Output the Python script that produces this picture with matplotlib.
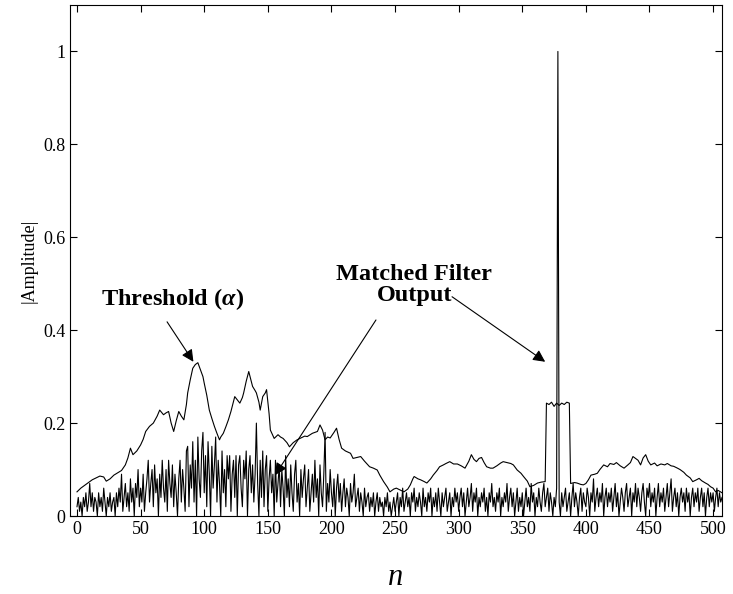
import matplotlib
matplotlib.use('Agg')
import matplotlib.pyplot as plt
import numpy as np

plt.rcParams['font.family'] = ['Liberation Serif', 'DejaVu Serif']
plt.rcParams['mathtext.fontset'] = 'custom'
plt.rcParams['mathtext.rm'] = 'Liberation Serif:bold'
plt.rcParams['mathtext.it'] = 'Liberation Serif:italic:bold'

# threshold curve (sample index, value)
thr_n = [0, 3, 6, 9, 12, 15, 18, 21, 23, 26, 29, 32, 35, 38, 40, 42, 44, 47, 50, 52,
         54, 57, 60, 63, 65, 68, 70, 72, 74, 76, 78, 80, 82, 84, 86, 87, 89, 91, 93, 95,
         97, 99, 100, 102, 104, 106, 108, 110, 112, 113, 115, 117, 119, 121, 124, 126, 128, 130, 131, 133,
         135, 137, 138, 140, 141, 143, 144, 146, 148, 149, 151, 152, 155, 158, 160, 162, 165, 167, 170, 173,
         176, 179, 181, 185, 189, 191, 193, 195, 197, 199, 202, 204, 206, 208, 211, 215, 217, 220, 223, 226,
         230, 233, 236, 238, 241, 244, 246, 249, 251, 254, 257, 260, 262, 264, 265, 268, 270, 273, 275, 278,
         280, 283, 285, 288, 290, 293, 296, 299, 302, 305, 308, 310, 312, 314, 316, 318, 320, 322, 325, 327,
         330, 333, 335, 338, 341, 343, 346, 349, 351, 354, 356, 359, 362, 365, 368, 369, 371, 373, 375, 377,
         379, 381, 383, 385, 387, 388, 391, 393, 396, 398, 400, 402, 404, 407, 409, 411, 414, 417, 419, 422,
         424, 427, 430, 433, 435, 437, 439, 441, 443, 445, 447, 449, 451, 454, 456, 459, 462, 464, 467, 469,
         472, 474, 477, 479, 482, 484, 487, 489, 491, 494, 496, 498, 500, 502, 504, 507]
thr_val = [0.052, 0.060, 0.066, 0.072, 0.078, 0.082, 0.086, 0.084, 0.075, 0.080, 0.088, 0.093, 0.098, 0.110, 0.125, 0.146, 0.132, 0.140, 0.153, 0.165,
           0.182, 0.193, 0.200, 0.215, 0.228, 0.218, 0.222, 0.225, 0.200, 0.182, 0.205, 0.225, 0.215, 0.207, 0.240, 0.265, 0.293, 0.318, 0.326, 0.330,
           0.315, 0.300, 0.286, 0.260, 0.228, 0.210, 0.193, 0.178, 0.164, 0.170, 0.178, 0.192, 0.207, 0.225, 0.257, 0.250, 0.243, 0.255, 0.265, 0.290,
           0.311, 0.290, 0.279, 0.270, 0.265, 0.245, 0.228, 0.257, 0.265, 0.272, 0.220, 0.185, 0.167, 0.175, 0.170, 0.167, 0.158, 0.149, 0.158, 0.164,
           0.168, 0.172, 0.171, 0.178, 0.182, 0.196, 0.185, 0.164, 0.170, 0.168, 0.180, 0.189, 0.165, 0.146, 0.140, 0.135, 0.124, 0.126, 0.128, 0.118,
           0.106, 0.103, 0.099, 0.088, 0.074, 0.062, 0.052, 0.058, 0.060, 0.056, 0.052, 0.058, 0.067, 0.080, 0.085, 0.080, 0.078, 0.074, 0.071, 0.080,
           0.088, 0.098, 0.106, 0.110, 0.113, 0.117, 0.112, 0.112, 0.108, 0.103, 0.118, 0.132, 0.122, 0.117, 0.124, 0.126, 0.115, 0.106, 0.103, 0.103,
           0.108, 0.114, 0.117, 0.115, 0.113, 0.110, 0.099, 0.092, 0.085, 0.075, 0.063, 0.066, 0.071, 0.073, 0.074, 0.243, 0.240, 0.245, 0.236, 0.243,
           0.238, 0.243, 0.240, 0.245, 0.243, 0.070, 0.072, 0.071, 0.068, 0.067, 0.070, 0.078, 0.088, 0.090, 0.092, 0.100, 0.110, 0.106, 0.113, 0.111,
           0.115, 0.108, 0.103, 0.110, 0.115, 0.128, 0.124, 0.120, 0.110, 0.125, 0.132, 0.118, 0.110, 0.114, 0.108, 0.112, 0.110, 0.113, 0.108, 0.107,
           0.103, 0.100, 0.094, 0.088, 0.082, 0.074, 0.078, 0.081, 0.076, 0.071, 0.068, 0.063, 0.060, 0.052, 0.055, 0.050]

# matched filter output |y[n]|, n = 0 .. 507
mf_out = [
    0.02, 0.04, 0.01, 0.03, 0.00, 0.04, 0.02, 0.05, 0.01, 0.03,
    0.07, 0.02, 0.05, 0.01, 0.04, 0.03, 0.00, 0.05, 0.02, 0.04,
    0.01, 0.06, 0.03, 0.00, 0.04, 0.02, 0.05, 0.01, 0.03, 0.04,
    0.00, 0.05, 0.02, 0.06, 0.03, 0.09, 0.01, 0.04, 0.07, 0.02,
    0.05, 0.01, 0.08, 0.03, 0.06, 0.00, 0.07, 0.04, 0.10, 0.02,
    0.06, 0.03, 0.09, 0.01, 0.05, 0.08, 0.12, 0.03, 0.07, 0.10,
    0.02, 0.11, 0.05, 0.08, 0.00, 0.09, 0.04, 0.12, 0.06, 0.03,
    0.10, 0.01, 0.12, 0.07, 0.04, 0.11, 0.02, 0.09, 0.05, 0.00,
    0.08, 0.12, 0.03, 0.10, 0.06, 0.01, 0.14, 0.15, 0.02, 0.11,
    0.06, 0.16, 0.03, 0.12, 0.00, 0.17, 0.08, 0.04, 0.14, 0.18,
    0.05, 0.13, 0.02, 0.16, 0.09, 0.00, 0.15, 0.06, 0.11, 0.17,
    0.03, 0.12, 0.07, 0.00, 0.14, 0.05, 0.10, 0.02, 0.13, 0.08,
    0.13, 0.01, 0.09, 0.12, 0.04, 0.13, 0.00, 0.11, 0.13, 0.06,
    0.02, 0.12, 0.08, 0.14, 0.00, 0.10, 0.13, 0.05, 0.11, 0.03,
    0.09, 0.20, 0.07, 0.00, 0.12, 0.04, 0.14, 0.02, 0.10, 0.13,
    0.01, 0.08, 0.12, 0.05, 0.09, 0.00, 0.12, 0.03, 0.07, 0.11,
    0.02, 0.10, 0.06, 0.00, 0.13, 0.04, 0.08, 0.02, 0.11, 0.05,
    0.01, 0.09, 0.12, 0.03, 0.07, 0.00, 0.10, 0.04, 0.08, 0.11,
    0.02, 0.06, 0.10, 0.01, 0.05, 0.09, 0.03, 0.12, 0.04, 0.08,
    0.00, 0.11, 0.05, 0.02, 0.09, 0.18, 0.01, 0.07, 0.03, 0.10,
    0.05, 0.02, 0.08, 0.00, 0.06, 0.09, 0.03, 0.07, 0.01, 0.05,
    0.08, 0.02, 0.06, 0.04, 0.00, 0.07, 0.03, 0.05, 0.09, 0.02,
    0.04, 0.06, 0.01, 0.05, 0.03, 0.00, 0.06, 0.02, 0.04, 0.05,
    0.01, 0.04, 0.02, 0.05, 0.00, 0.03, 0.05, 0.01, 0.04, 0.02,
    0.03, 0.00, 0.04, 0.02, 0.05, 0.01, 0.03, 0.00, 0.02, 0.04,
    0.01, 0.03, 0.05, 0.00, 0.04, 0.02, 0.06, 0.01, 0.03, 0.05,
    0.02, 0.04, 0.00, 0.05, 0.03, 0.06, 0.01, 0.04, 0.02, 0.05,
    0.03, 0.00, 0.06, 0.02, 0.04, 0.01, 0.05, 0.03, 0.06, 0.00,
    0.04, 0.02, 0.05, 0.01, 0.06, 0.03, 0.00, 0.05, 0.02, 0.04,
    0.06, 0.01, 0.03, 0.05, 0.00, 0.04, 0.02, 0.06, 0.03, 0.05,
    0.01, 0.04, 0.06, 0.02, 0.05, 0.00, 0.03, 0.06, 0.02, 0.04,
    0.07, 0.01, 0.05, 0.03, 0.06, 0.00, 0.04, 0.02, 0.05, 0.03,
    0.06, 0.01, 0.04, 0.00, 0.05, 0.03, 0.07, 0.02, 0.04, 0.01,
    0.05, 0.03, 0.06, 0.00, 0.04, 0.02, 0.05, 0.03, 0.07, 0.01,
    0.04, 0.06, 0.02, 0.05, 0.00, 0.03, 0.06, 0.01, 0.04, 0.02,
    0.05, 0.00, 0.03, 0.06, 0.02, 0.04, 0.01, 0.07, 0.03, 0.05,
    0.00, 0.04, 0.02, 0.06, 0.03, 0.01, 0.05, 0.07, 0.02, 0.04,
    0.06, 0.01, 0.05, 0.03, 0.00, 0.04, 0.02, 0.06, 1.00, 0.03,
    0.00, 0.05, 0.02, 0.04, 0.06, 0.01, 0.03, 0.05, 0.00, 0.04,
    0.07, 0.02, 0.05, 0.03, 0.00, 0.04, 0.06, 0.01, 0.05, 0.03,
    0.02, 0.06, 0.04, 0.00, 0.05, 0.03, 0.08, 0.01, 0.04, 0.06,
    0.02, 0.05, 0.03, 0.07, 0.00, 0.04, 0.06, 0.02, 0.05, 0.03,
    0.06, 0.01, 0.04, 0.07, 0.02, 0.05, 0.00, 0.03, 0.06, 0.04,
    0.01, 0.05, 0.07, 0.02, 0.04, 0.06, 0.00, 0.05, 0.03, 0.07,
    0.02, 0.06, 0.04, 0.01, 0.05, 0.07, 0.03, 0.00, 0.06, 0.04,
    0.07, 0.02, 0.05, 0.03, 0.06, 0.00, 0.04, 0.07, 0.02, 0.05,
    0.03, 0.06, 0.01, 0.04, 0.07, 0.02, 0.05, 0.08, 0.01, 0.04,
    0.06, 0.02, 0.05, 0.00, 0.04, 0.06, 0.03, 0.05, 0.01, 0.06,
    0.03, 0.05, 0.00, 0.04, 0.06, 0.02, 0.05, 0.03, 0.06, 0.01,
    0.04, 0.06, 0.02, 0.05, 0.00, 0.04, 0.06, 0.02, 0.05, 0.03,
    0.05, 0.01, 0.04, 0.06, 0.02, 0.05, 0.03, 0.04]
mf_n = np.arange(len(mf_out))

xticks = [0, 50, 100, 150, 200, 250, 300, 350, 400, 450, 500]
yticks = [0, 0.2, 0.4, 0.6, 0.8, 1]
ytick_labels = ['0', '0.2', '0.4', '0.6', '0.8', '1']

fig = plt.figure(figsize=(7.33, 5.94), dpi=100)
ax = fig.add_axes([0.0955, 0.1313, 0.8895, 0.8603])

ax.plot(mf_n, mf_out, color='black', lw=0.8)
ax.plot(thr_n, thr_val, color='black', lw=0.8)

ax.set_xlim(-5.5, 507)
ax.set_ylim(0, 1.1)
ax.set_xticks(xticks)
ax.set_yticks(yticks)
ax.set_yticklabels(ytick_labels)
ax.tick_params(direction='in', top=True, right=True, labelsize=13, length=5, width=0.8)
for s in ax.spines.values():
    s.set_linewidth(0.8)

ax.set_ylabel('|Amplitude|', fontsize=13, labelpad=4)
ax.set_xlabel('n', fontsize=22, style='italic', labelpad=18)

# annotations
arrow = dict(arrowstyle='-|>', color='black', lw=0.8, mutation_scale=18, shrinkA=0, shrinkB=0)
ax.text(74.7, 0.466, 'Threshold ($\\mathit{\\alpha}$)', fontsize=17.5, fontweight='bold',
        ha='center', va='center')
ax.annotate('', xy=(91.5, 0.332), xytext=(70.8, 0.418), arrowprops=arrow)

ax.text(265, 0.498, 'Matched Filter\nOutput', fontsize=17.5, fontweight='bold',
        ha='center', va='center', linespacing=1.0)
ax.annotate('', xy=(155.7, 0.088), xytext=(235, 0.422), arrowprops=arrow)
ax.annotate('', xy=(368, 0.332), xytext=(294.8, 0.472), arrowprops=arrow)

fig.savefig('out.png', dpi=100)
